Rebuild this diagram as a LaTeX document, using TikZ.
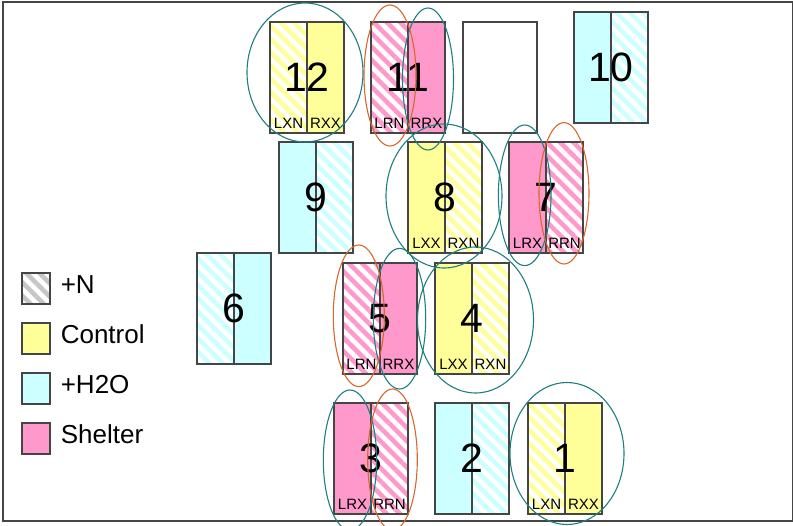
\documentclass[tikz,border=0pt]{standalone}
\usepackage{fontspec}
\setmainfont{Liberation Sans}
\usetikzlibrary{positioning,patterns.meta}
\definecolor{yel}{HTML}{FFFF99}
\definecolor{cya}{HTML}{CCFFFF}
\definecolor{pnk}{HTML}{FF99CC}
\definecolor{edge}{HTML}{454545}
\definecolor{ringteal}{HTML}{1F7F80}
\definecolor{ringorange}{HTML}{D8672A}
\tikzset{
  half/.style={draw=edge, line width=1.3pt, minimum width=37pt, minimum height=111pt, inner sep=0pt, outer sep=0pt},
  stripes/.style={pattern={Lines[angle=-45,distance=9.4pt,line width=4.6pt]}, pattern color=#1},
  ys/.style={stripes=yel}, yf/.style={fill=yel},
  cs/.style={stripes=cya}, cf/.style={fill=cya},
  ps/.style={stripes=pnk}, pf/.style={fill=pnk},
  ns/.style={stripes=gray!45},
  num/.style={font=\fontsize{41}{41}\selectfont, inner sep=0pt},
  lab/.style={font=\fontsize{15}{15}\selectfont, inner sep=0pt},
  key/.style={draw=edge, line width=1.2pt, minimum width=28pt, minimum height=31pt, inner sep=0pt},
  keytext/.style={font=\fontsize{26}{26}\selectfont, inner sep=0pt},
  ringt/.style={draw=ringteal, line width=1.1pt},
  ringo/.style={draw=ringorange, line width=1.1pt}
}
\begin{document}
\begin{tikzpicture}[x=1pt, y=-1pt]
  \useasboundingbox (0,0) rectangle (793,526);
  \draw[edge, line width=1.4pt] (3,2) rectangle (793,521);

  % plots: number / left x / top y / left half / right half
  \foreach \n/\x/\y/\lf/\rf in {12/270/22/ys/yf, 11/371/22/ps/pf, 10/574/12/cf/cs,
      9/279/142/cf/cs, 8/408/142/yf/ys, 7/509/142/pf/ps, 6/197/253/cs/cf,
      5/343/263/ps/pf, 4/435/263/yf/ys, 3/334/403/pf/ps, 2/435/403/cf/cs, 1/528/403/ys/yf} {
    \node[half, \lf, anchor=north west] (hl\n) at (\x,\y) {};
    \node[half, \rf, right=0pt of hl\n] (hr\n) {};
    \node[num] (nm\n) at (hl\n.east) {\n};
  }
  \node[half, minimum width=74pt, anchor=north west] (blank) at (463,22) {};

  \foreach \n/\lt/\rt in {12/LXN/RXX, 11/LRN/RRX, 8/LXX/RXN, 7/LRX/RRN,
      5/LRN/RRX, 4/LXX/RXN, 3/LRX/RRN, 1/LXN/RXX} {
    \node[lab, above=4pt of hl\n.south] (la\n) {\lt};
    \node[lab, above=4pt of hr\n.south] (ra\n) {\rt};
  }

  % legend
  \foreach \i/\s/\t in {1/ns/+N, 2/yf/Control, 3/cf/+H2O, 4/pf/Shelter} {
    \node[key, \s] (ky\i) at (36,{238.5+50*\i}) {};
    \node[keytext, right=10pt of ky\i, yshift=4pt] (kt\i) {\t};
  }

  % rings
  \foreach \cx/\cy/\rx/\ry in {305/72.5/58/69.5, 428/79/25.5/71, 444/196/58/72,
      524.7/195.3/26.3/70.3, 399.5/318.7/26.2/70.3, 475.5/320/58/73,
      350/460/26.7/70, 567/453.5/57/71}
    \draw[ringt] (\cx,\cy) ellipse ({\rx} and {\ry});
  \foreach \cx/\cy/\rx/\ry in {390/75.5/26/70.5, 564/193.3/25/70.7,
      358.8/315.8/25.5/70.8, 392.5/459.5/24.8/70.5}
    \draw[ringo] (\cx,\cy) ellipse ({\rx} and {\ry});
\end{tikzpicture}
\end{document}
